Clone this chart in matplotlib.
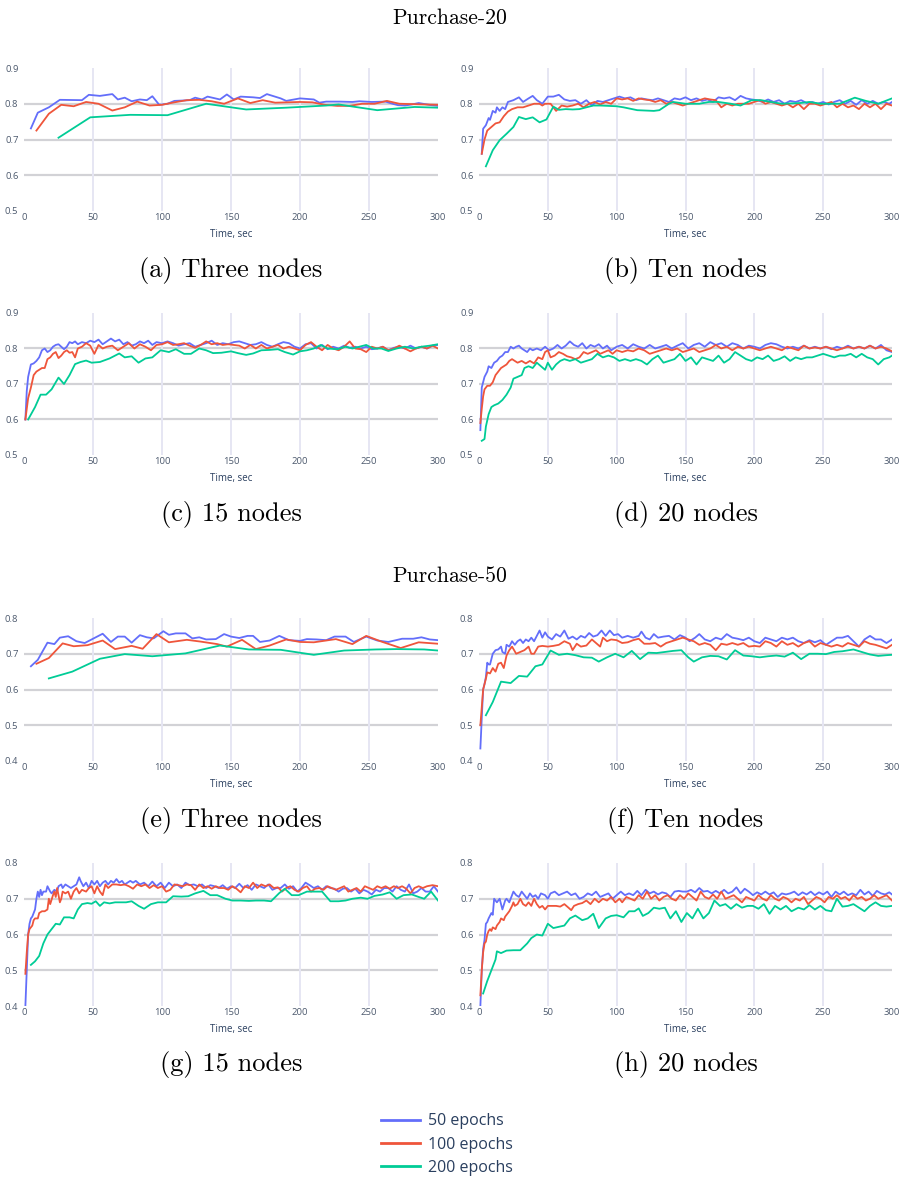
import matplotlib
matplotlib.use("Agg")
import matplotlib.pyplot as plt
from matplotlib.lines import Line2D

plt.rcParams['axes.formatter.use_mathtext'] = False

# ---------------- data: (time sec, accuracy) ----------------
SERIES_NAMES = ["50 epochs", "100 epochs", "200 epochs"]
COLORS = ["#636EFA", "#EF553B", "#00CC96"]
X_TICKS = [0, 50, 100, 150, 200, 250, 300]
Y_TICKS_20 = [0.5, 0.6, 0.7, 0.8, 0.9]
Y_TICKS_50 = [0.4, 0.5, 0.6, 0.7, 0.8]
CAPTIONS = ["(a) Three nodes", "(b) Ten nodes", "(c) 15 nodes", "(d) 20 nodes",
            "(e) Three nodes", "(f) Ten nodes", "(g) 15 nodes", "(h) 20 nodes"]
TITLES = ["Purchase-20", "Purchase-50"]

# Purchase-20, three nodes
A_50 = [(5,.731),(10,.775),(18,.79),(26,.811),(42,.81),(47,.825),(55,.822),(64,.827),(68,.812),(73,.817),(78,.807),
        (84,.812),(89,.81),(93,.821),(98,.797),(104,.8),(109,.808),(115,.809),(120,.81),(124,.817),(129,.812),
        (133,.82),(142,.812),(147,.826),(152,.812),(157,.82),(166,.818),(171,.816),(176,.827),(186,.815),(190,.808),
        (200,.815),(210,.812),(214,.803),(219,.806),(229,.806),(238,.805),(243,.807),(252,.805),(262,.806),(267,.8),
        (271,.796),(276,.795),(281,.798),(286,.802),(295,.796),(300,.794)]
A_100 = [(9,.725),(18,.772),(27,.797),(36,.793),(45,.805),(54,.8),(64,.781),(73,.79),(82,.806),(91,.795),(100,.797),
         (109,.804),(118,.81),(127,.811),(136,.807),(145,.8),(155,.815),(164,.802),(173,.81),(182,.803),(191,.804),
         (200,.805),(209,.804),(218,.797),(227,.794),(236,.794),(245,.8),(254,.8),(263,.808),(272,.8),(281,.799),
         (290,.798),(300,.797)]
A_200 = [(25,.705),(48,.762),(77,.769),(104,.768),(132,.8),(161,.784),(190,.789),(219,.795),(228,.798),(256,.782),
         (283,.791),(300,.789)]

# Purchase-20, ten nodes
B_50 = [(2,.66),(3,.73),(5,.74),(7,.76),(8,.755),(10,.78),(12,.775),(13,.79),(15,.78),(17,.79),(19,.785),(21,.805),
        (25,.81),(29,.818),(32,.805),(36,.815),(39,.822),(42,.81),(46,.8),(50,.82),(54,.82),(58,.825),(62,.812),
        (66,.808),(70,.81),(74,.8),(78,.81),(82,.795),(86,.808),(90,.805),(94,.81),(98,.815),(102,.82),(106,.815),
        (110,.818),(114,.81),(118,.815),(122,.812),(126,.81),(130,.815),(134,.81),(138,.805),(142,.815),(146,.812),
        (150,.818),(154,.81),(158,.815),(162,.808),(166,.812),(170,.805),(174,.818),(178,.815),(182,.818),(186,.81),
        (190,.822),(194,.815),(198,.812),(202,.81),(206,.805),(210,.812),(214,.805),(218,.81),(222,.8),(226,.808),
        (230,.805),(234,.81),(238,.802),(242,.805),(246,.8),(250,.805),(254,.798),(258,.805),(262,.81),(266,.8),
        (270,.808),(274,.797),(278,.81),(282,.8),(286,.808),(290,.8),(294,.805),(298,.8),(300,.805)]
B_100 = [(2,.66),(4,.7),(6,.725),(9,.735),(12,.745),(15,.748),(18,.765),(21,.778),(24,.785),(28,.79),(32,.79),
         (36,.795),(40,.8),(44,.8),(46,.795),(48,.8),(52,.8),(56,.78),(60,.795),(64,.792),(68,.795),(72,.8),(76,.79),
         (80,.8),(84,.805),(88,.798),(92,.805),(96,.8),(100,.815),(104,.812),(108,.815),(112,.808),(116,.815),
         (120,.812),(124,.81),(128,.805),(132,.81),(136,.8),(140,.805),(144,.8),(148,.795),(152,.8),(156,.805),
         (160,.81),(164,.815),(168,.812),(172,.81),(176,.79),(180,.8),(184,.795),(188,.8),(192,.8),(196,.8),
         (200,.805),(204,.81),(208,.8),(212,.805),(216,.8),(220,.795),(224,.8),(228,.79),(232,.8),(236,.785),
         (240,.8),(244,.8),(248,.795),(252,.8),(256,.805),(260,.79),(264,.8),(268,.79),(272,.795),(276,.785),
         (280,.8),(284,.79),(288,.8),(292,.785),(296,.8),(300,.795)]
B_200 = [(5,.625),(10,.67),(15,.698),(20,.716),(25,.735),(29,.763),(34,.757),(39,.762),(44,.748),(49,.756),(54,.792),
         (58,.783),(63,.785),(68,.784),(73,.785),(78,.79),(83,.795),(88,.795),(100,.793),(105,.79),(115,.782),
         (127,.78),(131,.782),(138,.8),(141,.805),(150,.8),(160,.8),(167,.805),(174,.805),(183,.8),(190,.795),
         (198,.81),(205,.81),(212,.805),(220,.8),(233,.802),(240,.805),(248,.8),(262,.8),(273,.817),(281,.808),
         (290,.8),(300,.815)]

# Purchase-20, 15 nodes
C_50 = [(1,.6),(2,.68),(3,.72),(5,.755),(7,.758),(9,.765),(11,.775),(13,.795),(15,.8),(17,.79),(19,.795),(21,.805),
        (23,.81),(25,.812),(27,.805),(29,.798),(31,.805),(33,.818),(35,.815),(37,.82),(39,.812),(42,.818),(45,.815),
        (48,.822),(51,.818),(54,.825),(57,.812),(60,.82),(63,.828),(66,.82),(69,.825),(72,.812),(75,.818),(78,.808),
        (81,.812),(84,.82),(87,.815),(90,.822),(93,.81),(96,.818),(100,.815),(104,.82),(108,.815),(112,.808),
        (116,.812),(120,.815),(124,.805),(128,.81),(132,.815),(136,.822),(140,.81),(144,.815),(148,.812),(152,.818),
        (156,.82),(160,.815),(164,.81),(168,.812),(172,.818),(176,.81),(180,.805),(184,.812),(188,.818),(192,.815),
        (196,.805),(200,.8),(204,.812),(208,.815),(212,.8),(216,.81),(220,.798),(224,.805),(228,.8),(232,.808),
        (236,.802),(240,.805),(244,.8),(248,.805),(252,.798),(256,.8),(260,.805),(264,.795),(268,.802),(272,.805),
        (276,.8),(280,.808),(284,.8),(288,.805),(292,.8),(296,.808),(300,.81)]
C_100 = [(1,.6),(3,.66),(5,.69),(7,.725),(9,.735),(11,.74),(13,.745),(15,.745),(17,.77),(19,.775),(21,.785),(23,.79),
         (25,.773),(27,.78),(29,.79),(31,.795),(33,.788),(35,.79),(37,.775),(39,.8),(42,.805),(45,.815),(48,.808),
         (51,.785),(54,.81),(57,.8),(60,.805),(64,.808),(68,.795),(72,.805),(76,.815),(80,.8),(84,.812),(88,.805),
         (92,.795),(96,.81),(100,.812),(104,.818),(108,.81),(112,.812),(116,.815),(120,.808),(124,.802),(128,.81),
         (132,.82),(136,.812),(140,.815),(144,.81),(148,.812),(152,.81),(156,.808),(160,.8),(164,.81),(168,.8),
         (172,.81),(176,.8),(180,.805),(184,.81),(188,.8),(192,.805),(196,.8),(200,.795),(204,.81),(208,.818),
         (212,.805),(216,.795),(220,.81),(224,.8),(228,.795),(232,.805),(236,.82),(240,.8),(244,.798),(248,.79),
         (252,.805),(256,.8),(260,.805),(264,.795),(268,.8),(272,.808),(276,.8),(280,.792),(284,.8),(288,.805),
         (292,.8),(296,.808),(300,.8)]
C_200 = [(3,.6),(8,.635),(12,.67),(16,.67),(20,.685),(25,.718),(29,.7),(33,.725),(37,.756),(41,.762),(45,.766),
         (49,.76),(55,.762),(62,.772),(69,.786),(73,.775),(78,.778),(83,.76),(88,.772),(93,.775),(99,.795),(105,.79),
         (110,.798),(116,.785),(121,.785),(127,.8),(132,.795),(137,.787),(143,.788),(150,.792),(155,.787),(161,.782),
         (166,.786),(172,.795),(178,.796),(184,.798),(189,.79),(195,.783),(200,.792),(205,.795),(210,.8),(215,.81),
         (220,.8),(227,.798),(233,.805),(238,.8),(243,.805),(248,.81),(253,.8),(259,.8),(264,.793),(270,.8),
         (276,.805),(282,.8),(288,.805),(294,.808),(300,.812)]

# Purchase-20, 20 nodes
D_50 = [(1,.57),(2,.69),(3,.705),(4,.72),(6,.735),(7,.75),(9,.745),(11,.76),(13,.765),(15,.775),(17,.78),(19,.79),
        (21,.79),(23,.805),(25,.8),(27,.805),(29,.808),(31,.8),(33,.795),(35,.79),(37,.8),(39,.795),(42,.8),(45,.795),
        (48,.805),(51,.795),(54,.8),(57,.81),(60,.8),(63,.808),(66,.82),(69,.81),(72,.805),(75,.815),(78,.8),(81,.81),
        (84,.805),(87,.812),(90,.8),(93,.808),(96,.795),(100,.805),(104,.81),(108,.8),(112,.812),(116,.805),(120,.8),
        (124,.81),(128,.8),(132,.805),(136,.81),(140,.8),(144,.808),(148,.815),(152,.8),(156,.81),(160,.815),
        (164,.805),(168,.818),(172,.81),(176,.815),(180,.805),(184,.815),(188,.81),(192,.8),(196,.808),(200,.805),
        (204,.8),(208,.81),(212,.815),(216,.812),(220,.805),(224,.8),(228,.805),(232,.8),(236,.808),(240,.8),
        (244,.805),(248,.8),(252,.805),(256,.798),(260,.805),(264,.8),(268,.808),(272,.8),(276,.805),(280,.8),
        (284,.808),(288,.8),(292,.81),(296,.795),(300,.79)]
D_100 = [(1,.59),(2,.63),(3,.665),(4,.685),(6,.695),(8,.695),(10,.705),(12,.725),(14,.735),(16,.745),(18,.75),
         (20,.755),(22,.765),(24,.77),(26,.765),(28,.76),(31,.765),(34,.758),(37,.765),(40,.758),(43,.775),(46,.77),
         (48,.79),(50,.795),(52,.775),(55,.78),(58,.79),(61,.785),(64,.778),(67,.775),(70,.77),(73,.775),(76,.79),
         (79,.785),(82,.79),(85,.795),(88,.785),(91,.79),(94,.795),(97,.785),(100,.795),(104,.79),(108,.795),
         (112,.792),(116,.8),(120,.795),(124,.785),(128,.79),(132,.795),(136,.8),(140,.795),(144,.8),(148,.79),
         (152,.795),(156,.8),(160,.79),(164,.795),(168,.8),(172,.81),(176,.8),(180,.805),(184,.795),(188,.805),
         (192,.8),(196,.805),(200,.8),(204,.795),(208,.8),(212,.805),(216,.8),(220,.795),(224,.805),(228,.8),
         (232,.795),(236,.808),(240,.8),(244,.803),(248,.8),(252,.805),(256,.8),(260,.795),(264,.8),(268,.805),
         (272,.8),(276,.805),(280,.8),(284,.808),(288,.8),(292,.805),(296,.8),(300,.792)]
D_200 = [(2,.54),(4,.545),(5,.58),(7,.615),(9,.635),(11,.64),(14,.645),(17,.655),(20,.67),(23,.69),(25,.715),(28,.72),
         (31,.725),(33,.745),(36,.75),(39,.745),(42,.76),(45,.75),(48,.74),(50,.76),(53,.74),(56,.755),(59,.765),
         (62,.77),(66,.765),(70,.77),(74,.76),(78,.765),(82,.77),(86,.785),(90,.775),(94,.78),(98,.775),(102,.765),
         (106,.77),(110,.765),(114,.77),(118,.765),(122,.755),(126,.77),(130,.78),(134,.76),(138,.765),(142,.77),
         (146,.785),(150,.765),(154,.775),(158,.755),(162,.775),(166,.77),(170,.765),(174,.78),(178,.76),(182,.77),
         (186,.79),(190,.78),(194,.77),(198,.765),(202,.775),(206,.77),(210,.78),(214,.765),(218,.77),(222,.778),
         (226,.765),(230,.775),(234,.77),(238,.775),(242,.775),(246,.78),(250,.785),(254,.78),(258,.775),(262,.78),
         (266,.78),(270,.785),(274,.775),(278,.785),(282,.775),(286,.77),(290,.755),(294,.77),(298,.775),(300,.78)]

# Purchase-50, three nodes
E_50 = [(5,.665),(10,.683),(17,.731),(22,.727),(26,.745),(32,.749),(38,.735),(44,.73),(50,.742),(57,.756),(63,.733),
        (68,.748),(73,.748),(78,.731),(84,.752),(89,.746),(94,.743),(101,.763),(105,.753),(110,.757),(117,.757),
        (122,.743),(127,.746),(132,.74),(139,.741),(145,.755),(150,.748),(156,.744),(162,.75),(166,.75),(171,.733),
        (178,.737),(185,.75),(192,.738),(200,.736),(205,.741),(212,.74),(219,.738),(225,.748),(233,.748),(239,.733),
        (248,.748),(256,.737),(264,.733),(274,.742),(282,.742),(288,.746),(294,.74),(300,.738)]
E_100 = [(9,.672),(18,.688),(28,.729),(36,.721),(46,.724),(57,.737),(66,.713),(78,.722),(86,.714),(96,.755),(105,.732),
         (118,.739),(128,.734),(140,.727),(147,.72),(158,.739),(168,.713),(178,.723),(190,.74),(200,.733),(210,.732),
         (226,.741),(238,.727),(248,.75),(259,.734),(273,.716),(286,.732),(300,.728)]
E_200 = [(18,.631),(35,.65),(55,.686),(73,.699),(93,.693),(117,.701),(142,.723),(163,.712),(186,.711),(210,.697),
         (232,.709),(255,.712),(270,.713),(290,.712),(300,.709)]

# Purchase-50, ten nodes
F_50 = [(1,.435),(2,.52),(3,.6),(4,.615),(5,.635),(6,.675),(7,.67),(8,.67),(10,.7),(12,.71),(14,.712),(16,.72),
        (17,.705),(19,.7),(20,.725),(22,.72),(24,.735),(26,.725),(28,.735),(30,.74),(32,.73),(34,.74),(36,.735),
        (38,.745),(40,.735),(42,.75),(44,.765),(46,.745),(48,.76),(50,.748),(53,.74),(56,.755),(59,.748),(62,.765),
        (65,.742),(68,.748),(71,.74),(74,.75),(77,.745),(80,.758),(83,.748),(86,.752),(89,.765),(92,.75),(95,.765),
        (98,.752),(101,.755),(104,.745),(108,.75),(112,.745),(116,.75),(118,.762),(121,.745),(124,.74),(127,.755),
        (130,.745),(134,.748),(138,.75),(142,.74),(146,.752),(150,.745),(153,.735),(157,.745),(160,.755),(164,.74),
        (168,.735),(172,.745),(176,.74),(180,.755),(184,.745),(188,.742),(192,.738),(196,.745),(200,.735),(204,.73),
        (208,.745),(212,.74),(216,.735),(220,.745),(224,.74),(228,.745),(232,.735),(236,.73),(240,.738),(244,.732),
        (248,.738),(252,.725),(256,.735),(260,.745),(264,.745),(268,.75),(272,.735),(276,.72),(280,.74),(284,.75),
        (288,.74),(292,.74),(296,.73),(300,.74)]
F_100 = [(1,.5),(2,.55),(3,.6),(5,.63),(6,.648),(8,.645),(10,.66),(12,.65),(14,.672),(16,.675),(18,.66),(20,.695),
         (22,.71),(24,.72),(27,.7),(30,.705),(33,.71),(36,.72),(38,.7),(40,.7),(43,.72),(46,.722),(50,.72),(54,.722),
         (58,.725),(62,.735),(66,.728),(68,.71),(71,.728),(74,.72),(78,.723),(82,.74),(85,.73),(88,.72),(90,.745),
         (93,.735),(96,.74),(100,.738),(104,.73),(108,.732),(112,.738),(116,.742),(120,.728),(124,.728),(128,.73),
         (132,.72),(136,.73),(140,.735),(144,.74),(148,.745),(152,.74),(156,.735),(160,.725),(164,.73),(168,.725),
         (172,.71),(176,.728),(180,.725),(184,.73),(188,.725),(192,.73),(196,.72),(200,.722),(204,.72),(208,.735),
         (212,.73),(216,.72),(220,.735),(224,.725),(228,.73),(232,.72),(236,.73),(240,.735),(244,.72),(248,.73),
         (252,.725),(256,.72),(260,.725),(264,.72),(268,.73),(272,.725),(276,.72),(280,.735),(284,.728),(288,.725),
         (292,.72),(296,.715),(300,.725)]
F_200 = [(5,.528),(10,.565),(16,.622),(23,.618),(29,.638),(35,.636),(41,.665),(46,.67),(52,.709),(58,.697),(64,.7),
         (70,.696),(76,.69),(82,.689),(87,.678),(93,.69),(99,.7),(105,.69),(111,.708),(117,.685),(123,.703),(129,.702),
         (135,.705),(141,.708),(147,.71),(152,.69),(156,.678),(162,.69),(168,.694),(174,.693),(180,.684),(186,.71),
         (192,.695),(198,.693),(204,.69),(210,.693),(216,.695),(222,.692),(228,.703),(234,.685),(240,.7),(246,.7),
         (252,.699),(258,.705),(264,.707),(272,.712),(278,.705),(284,.698),(290,.694),(296,.696),(300,.697)]

# Purchase-50, 15 nodes
G_50 = [(1,.4),(2,.5),(3,.6),(4,.63),(5,.645),(6,.65),(8,.67),(9,.7),(10,.72),(11,.705),(12,.725),(13,.71),(14,.72),
        (16,.72),(17,.735),(19,.72),(20,.715),(22,.725),(24,.72),(25,.735),(27,.74),(28,.73),(30,.74),(32,.735),
        (34,.73),(36,.735),(38,.74),(40,.76),(41,.75),(43,.735),(45,.745),(47,.73),(49,.75),(51,.74),(53,.75),
        (55,.735),(57,.745),(59,.75),(61,.74),(63,.75),(65,.745),(67,.755),(69,.745),(71,.75),(73,.74),(75,.745),
        (77,.75),(79,.745),(81,.75),(84,.74),(87,.745),(90,.735),(93,.748),(96,.735),(99,.745),(102,.73),(105,.745),
        (108,.735),(111,.74),(114,.73),(117,.745),(120,.738),(123,.74),(126,.735),(129,.74),(132,.73),(135,.738),
        (138,.735),(141,.73),(144,.738),(147,.728),(150,.735),(153,.73),(156,.742),(159,.73),(162,.738),(165,.725),
        (168,.74),(171,.735),(174,.73),(177,.74),(180,.725),(183,.73),(186,.73),(189,.74),(192,.728),(195,.735),
        (198,.72),(201,.73),(204,.745),(207,.738),(210,.73),(213,.735),(216,.725),(219,.735),(222,.73),(225,.728),
        (228,.72),(231,.728),(234,.73),(237,.72),(240,.728),(243,.715),(246,.725),(249,.72),(252,.712),(255,.725),
        (258,.72),(261,.73),(264,.73),(267,.72),(270,.735),(273,.725),(276,.72),(279,.74),(282,.715),(285,.72),
        (288,.73),(291,.72),(294,.72),(297,.735),(300,.72)]
G_100 = [(1,.49),(2,.55),(3,.6),(4,.615),(6,.625),(7,.64),(8,.645),(10,.645),(11,.66),(13,.665),(15,.665),(17,.67),
         (18,.7),(19,.685),(21,.71),(22,.72),(23,.705),(24,.73),(26,.69),(27,.7),(28,.72),(30,.715),(32,.72),(34,.7),
         (36,.72),(38,.73),(40,.715),(42,.725),(45,.72),(47,.73),(49,.735),(51,.715),(53,.735),(55,.72),(57,.71),
         (59,.74),(61,.73),(64,.74),(67,.74),(70,.738),(73,.74),(76,.735),(79,.728),(82,.74),(85,.735),(88,.74),
         (91,.73),(94,.738),(97,.73),(100,.735),(103,.72),(106,.725),(109,.74),(112,.738),(115,.735),(118,.74),
         (121,.738),(124,.725),(127,.74),(130,.73),(133,.735),(136,.728),(139,.735),(142,.73),(145,.73),(148,.725),
         (151,.735),(154,.728),(157,.718),(160,.735),(163,.73),(166,.745),(169,.73),(172,.74),(175,.735),(178,.74),
         (181,.73),(184,.732),(187,.72),(190,.73),(193,.735),(196,.725),(199,.72),(202,.73),(205,.735),(208,.72),
         (211,.728),(214,.73),(217,.725),(220,.735),(223,.73),(226,.725),(229,.73),(232,.735),(235,.72),(238,.725),
         (241,.73),(244,.72),(247,.735),(250,.73),(253,.725),(256,.735),(259,.73),(262,.735),(265,.728),(268,.735),
         (271,.73),(274,.735),(277,.728),(280,.715),(283,.73),(286,.735),(289,.73),(292,.735),(296,.738),(300,.735)]
G_200 = [(5,.515),(8,.525),(11,.54),(14,.575),(17,.6),(20,.615),(23,.63),(26,.628),(29,.648),(33,.648),(36,.645),
         (39,.67),(42,.685),(46,.688),(49,.686),(52,.693),(55,.68),(58,.69),(62,.687),(66,.69),(70,.69),(74,.69),
         (78,.693),(83,.68),(87,.672),(92,.685),(97,.69),(103,.69),(108,.707),(114,.706),(119,.707),(124,.715),
         (130,.722),(135,.71),(140,.71),(146,.7),(151,.695),(157,.695),(163,.694),(168,.695),(174,.695),(179,.693),
         (185,.716),(189,.728),(194,.71),(199,.71),(205,.72),(211,.72),(216,.72),(222,.693),(228,.693),(233,.695),
         (238,.7),(244,.703),(249,.7),(254,.708),(260,.712),(265,.718),(270,.7),(275,.71),(281,.712),(286,.705),
         (290,.7),(295,.72),(300,.695)]

# Purchase-50, 20 nodes
H_50 = [(1,.4),(2,.5),(3,.56),(4,.585),(5,.63),(6,.635),(7,.645),(9,.66),(10,.655),(11,.7),(13,.69),(15,.7),(17,.67),
        (19,.695),(20,.7),(22,.69),(24,.71),(25,.72),(27,.71),(29,.705),(31,.72),(33,.71),(35,.7),(37,.715),(39,.705),
        (41,.71),(43,.7),(45,.715),(48,.71),(50,.7),(52,.715),(55,.72),(58,.71),(61,.715),(64,.72),(67,.71),(70,.715),
        (73,.7),(76,.705),(79,.715),(82,.71),(85,.72),(88,.705),(91,.71),(94,.715),(97,.7),(100,.71),(103,.72),
        (106,.71),(109,.715),(112,.71),(115,.722),(118,.71),(121,.725),(124,.715),(127,.72),(130,.712),(133,.718),
        (136,.715),(139,.705),(142,.72),(145,.722),(148,.72),(151,.72),(154,.725),(157,.718),(160,.73),(163,.72),
        (166,.722),(169,.715),(172,.722),(175,.715),(178,.725),(181,.715),(184,.72),(187,.732),(190,.715),(193,.728),
        (196,.72),(199,.71),(202,.718),(205,.712),(208,.72),(211,.712),(214,.718),(217,.705),(220,.715),(223,.712),
        (226,.715),(229,.72),(232,.71),(235,.718),(238,.712),(241,.72),(244,.71),(247,.718),(250,.712),(253,.72),
        (256,.705),(259,.72),(262,.712),(265,.72),(268,.71),(271,.715),(274,.71),(277,.725),(280,.712),(283,.72),
        (286,.708),(289,.722),(292,.715),(295,.712),(298,.718),(300,.712)]
H_100 = [(1,.43),(2,.5),(3,.55),(4,.575),(5,.58),(6,.6),(7,.61),(8,.615),(9,.61),(10,.62),(12,.615),(13,.625),
         (15,.635),(16,.645),(18,.64),(19,.65),(21,.66),(22,.665),(24,.68),(25,.69),(26,.68),(28,.685),(30,.7),
         (32,.685),(34,.68),(36,.69),(38,.68),(40,.7),(42,.685),(44,.675),(46,.68),(48,.67),(50,.68),(53,.68),(56,.68),
         (59,.678),(62,.685),(65,.675),(67,.668),(69,.68),(72,.685),(75,.688),(78,.695),(81,.685),(84,.7),(87,.69),
         (90,.7),(93,.695),(96,.705),(99,.69),(102,.7),(104,.69),(107,.705),(110,.7),(113,.695),(116,.71),(119,.7),
         (122,.72),(125,.7),(128,.71),(131,.695),(134,.705),(137,.71),(140,.7),(143,.695),(146,.71),(149,.7),
         (152,.715),(155,.705),(158,.695),(161,.72),(164,.705),(167,.7),(170,.712),(173,.7),(176,.72),(179,.7),
         (182,.705),(185,.71),(188,.7),(191,.69),(194,.705),(197,.7),(200,.695),(203,.71),(206,.7),(209,.695),
         (212,.71),(215,.7),(218,.695),(221,.705),(224,.7),(227,.69),(230,.7),(233,.695),(236,.705),(239,.685),
         (242,.695),(245,.705),(248,.7),(251,.69),(254,.705),(257,.7),(260,.71),(263,.7),(266,.705),(269,.695),
         (272,.71),(275,.7),(278,.705),(281,.695),(284,.7),(287,.71),(290,.7),(293,.705),(296,.71),(300,.695)]
H_200 = [(3,.435),(6,.47),(9,.5),(12,.53),(13,.553),(16,.548),(20,.555),(25,.556),(30,.556),(35,.575),(38,.59),
         (42,.6),(46,.597),(50,.63),(54,.618),(62,.625),(66,.645),(70,.653),(75,.64),(79,.645),(83,.658),(87,.618),
         (92,.645),(96,.652),(100,.654),(105,.648),(109,.665),(113,.665),(116,.673),(119,.652),(123,.66),(127,.675),
         (131,.672),(135,.675),(139,.645),(143,.665),(147,.635),(151,.66),(155,.645),(159,.672),(163,.645),(167,.66),
         (171,.695),(175,.68),(179,.685),(183,.672),(187,.685),(191,.675),(195,.68),(199,.68),(203,.672),(207,.685),
         (211,.658),(215,.68),(219,.67),(223,.68),(227,.665),(232,.675),(236,.67),(240,.682),(244,.67),(248,.68),
         (252,.668),(256,.665),(260,.7),(264,.678),(268,.68),(272,.685),(276,.675),(280,.665),(284,.68),(288,.69),
         (292,.68),(296,.678),(300,.68)]

PANELS = [(A_50, A_100, A_200), (B_50, B_100, B_200), (C_50, C_100, C_200), (D_50, D_100, D_200),
          (E_50, E_100, E_200), (F_50, F_100, F_200), (G_50, G_100, G_200), (H_50, H_100, H_200)]

# ---------------- layout ----------------
W, H = 900, 1178
fig = plt.figure(figsize=(W / 100, H / 100), dpi=100)

COL_X = [(24, 438), (479, 892)]
ROW_Y = [(68, 211), (313, 455), (618, 761), (863, 1006)]
CAP_Y = [270, 515, 820, 1065]
TICK_C = "#4d5a6e"
GRID_H = "#d2d2d6"
GRID_V = "#e6e6f3"
SANS = ["Open Sans", "DejaVu Sans"]
SERIF = ["cmr10", "DejaVu Serif"]


def px_axes(x0, x1, y0, y1):
    return fig.add_axes([x0 / W, 1 - y1 / H, (x1 - x0) / W, (y1 - y0) / H])


for i, series in enumerate(PANELS):
    r, c = divmod(i, 2)
    (x0, x1), (y0, y1) = COL_X[c], ROW_Y[r]
    ax = px_axes(x0, x1, y0, y1)
    yt = Y_TICKS_20 if r < 2 else Y_TICKS_50
    for yv in yt[1:-1]:
        ax.axhline(yv, color=GRID_H, lw=1.6, zorder=0)
    for xv in X_TICKS[1:-1]:
        ax.axvline(xv, color=GRID_V, lw=1.4, zorder=0)
    for s, col in zip(series, COLORS):
        t = [p[0] for p in s]
        v = [p[1] for p in s]
        ax.plot(t, v, color=col, lw=1.3, zorder=3, solid_joinstyle='round')
    ax.set_xlim(0, 300)
    ax.set_ylim(yt[0], yt[-1])
    ax.set_xticks(X_TICKS)
    ax.set_xticklabels([str(x) for x in X_TICKS], family=SANS)
    ax.set_yticks(yt)
    ax.set_yticklabels([f"{y:.1f}" for y in yt], family=SANS)
    ax.tick_params(length=0, labelsize=6.8, colors=TICK_C, pad=1.5)
    ax.tick_params(axis='y', pad=4)
    for sp in ax.spines.values():
        sp.set_visible(False)
    ax.set_facecolor("none")
    ax.set_xlabel("Time, sec", fontsize=7, color="#2a3f5f", labelpad=5, family=SANS)
    cx = (x0 + x1) / 2
    fig.text(cx / W, 1 - CAP_Y[r] / H, CAPTIONS[i], ha="center", va="center",
             fontsize=19, color="black", family=SERIF)

fig.text(0.5, 1 - 18 / H, TITLES[0], ha="center", va="center", fontsize=15.5, family=SERIF)
fig.text(0.5, 1 - 576 / H, TITLES[1], ha="center", va="center", fontsize=15.5, family=SERIF)

handles = [Line2D([], [], color=c, lw=2) for c in COLORS]
leg = fig.legend(handles, SERIES_NAMES, loc="upper left", bbox_to_anchor=(367 / W, 1 - 1099 / H),
                 frameon=False, handlelength=2.4, handletextpad=0.5, labelspacing=0.45,
                 prop={"family": SANS, "size": 11.5})
for txt in leg.get_texts():
    txt.set_color("#2a3f5f")

fig.savefig("out.png", dpi=100, facecolor="white")
